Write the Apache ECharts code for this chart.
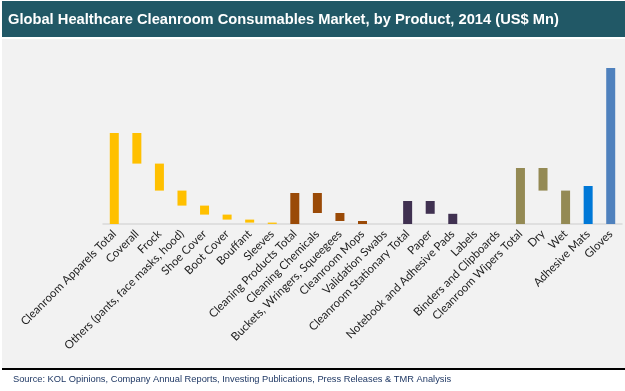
<!DOCTYPE html>
<html><head><meta charset="utf-8">
<script src="https://cdn.jsdelivr.net/npm/echarts@6/dist/echarts.min.js"></script>
<style>html,body{margin:0;padding:0;background:#fff;}#c{width:625px;height:391px;}</style>
</head><body><div id="c"></div>
<script>
const categories = [
  "Cleanroom Apparels Total","Coverall","Frock","Others (pants, face masks, hood)","Shoe Cover","Boot Cover","Bouffant","Sleeves",
  "Cleaning Products Total","Cleaning Chemicals","Buckets, Wringers, Squeegees","Cleanroom Mops","Validation Swabs",
  "Cleanroom Stationary Total","Paper","Notebook and Adhesive Pads","Labels","Binders and Clipboards",
  "Cleanroom Wipers Total","Dry","Wet","Adhesive Mats","Gloves"
];
const values = [455,153,135,75,45,25,15,6.5, 155,100,40,15,0, 115,64,51,0,0, 280,113,167, 190, 780];
const isTotal = [1,0,0,0,0,0,0,0, 1,0,0,0,0, 1,0,0,0,0, 1,0,0, 1, 1];
const groupOf = [0,0,0,0,0,0,0,0, 1,1,1,1,1, 2,2,2,2,2, 3,3,3, 4, 5];
const groupColors = ["#FFC000","#9A4A07","#403151","#948A54","#0078D7","#4F81BD"];

const bases = [];
let running = 0;
values.forEach((v,i)=>{
  if (isTotal[i]) { running = v; bases.push(0); }
  else { running -= v; bases.push(Math.max(0, running)); }
});

const chart = echarts.init(document.getElementById('c'), null, {renderer:'canvas'});
chart.setOption({
  animation:false,
  backgroundColor:'#ffffff',
  graphic:[
    {type:'rect', shape:{x:2,y:1,width:623,height:36}, style:{fill:'#215866'}, z:-10},
    {type:'rect', shape:{x:2,y:39,width:623,height:329}, style:{fill:'#F2F2F2'}, z:-10},
    {type:'rect', shape:{x:2,y:368,width:623,height:2}, style:{fill:'#000000'}, z:-10},
    {type:'text', left:8, top:12, style:{text:'Global Healthcare Cleanroom Consumables Market, by Product, 2014 (US$ Mn)', fill:'#ffffff', font:'bold 14.7px "Liberation Sans", Arial, sans-serif'}},
    {type:'text', left:13, top:375, style:{text:'Source: KOL Opinions, Company Annual Reports, Investing Publications, Press Releases & TMR Analysis', fill:'#1F3864', font:'9.3px "Liberation Sans", Arial, sans-serif'}}
  ],
  grid:{left:103, right:3, top:40, bottom:167, containLabel:false},
  xAxis:{
    type:'category', data:categories,
    axisLine:{lineStyle:{color:'#D9D9D9', width:1.5}},
    axisTick:{show:false},
    axisLabel:{rotate:45, interval:0, margin:8, color:'#222', fontSize:11.5, fontFamily:'Lato, "Open Sans", sans-serif'}
  },
  yAxis:{type:'value', min:0, max:920, show:false, splitLine:{show:false}},
  series:[
    {type:'bar', stack:'w', data:bases, itemStyle:{color:'transparent'}, barWidth:9, silent:true},
    {type:'bar', stack:'w', barWidth:9,
     data:values.map((v,i)=>({value:v, itemStyle:{color:groupColors[groupOf[i]]}}))}
  ]
});
</script></body></html>
